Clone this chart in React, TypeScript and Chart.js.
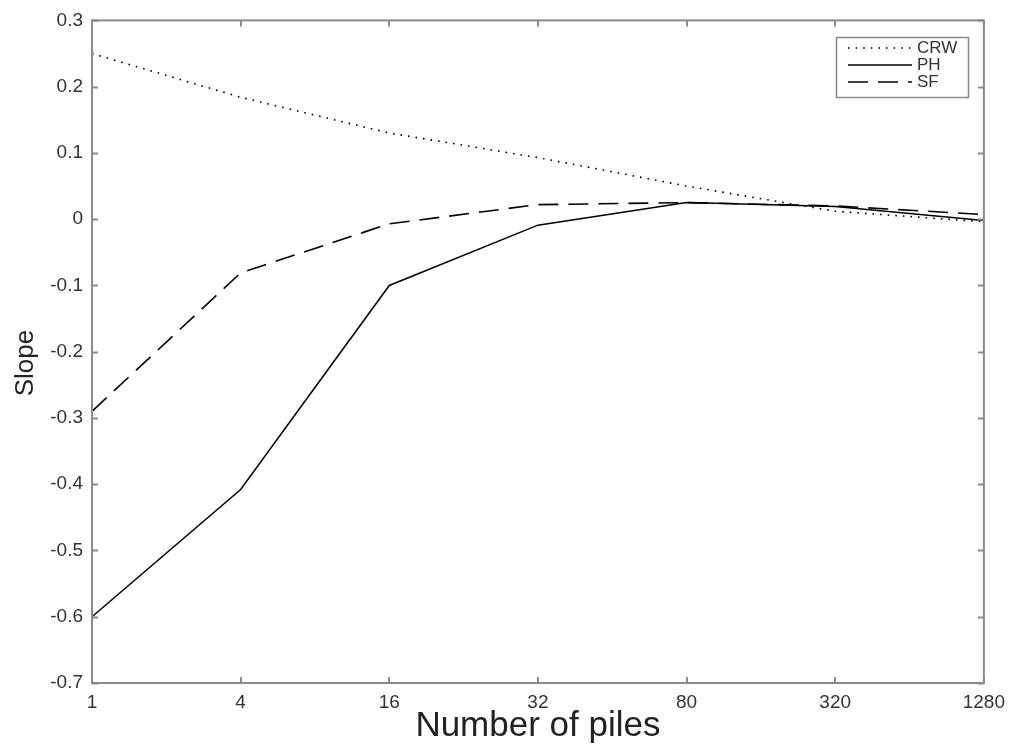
import React, { useEffect, useRef } from "react";
import { Chart, registerables } from "chart.js";

Chart.register(...registerables);

const categories = ["1", "4", "16", "32", "80", "320", "1280"];
const crwValues = [0.25, 0.184, 0.13, 0.093, 0.05, 0.012, -0.004];
const phValues = [-0.6, -0.408, -0.1, -0.009, 0.025, 0.019, -0.002];
const sfValues = [-0.29, -0.081, -0.007, 0.022, 0.025, 0.02, 0.007];
const yMin = -0.7;
const yMax = 0.3;
const yStep = 0.1;

const FONT = '"Liberation Sans", Arial, Helvetica, sans-serif';
const FRAME = "#8a8a8a";

const framePlugin = {
  id: "frameTicks",
  afterDatasetsDraw(chart: any) {
    const { ctx, chartArea } = chart;
    const { left, right, top, bottom } = chartArea;
    const xs = chart.scales.x;
    const ys = chart.scales.y;
    ctx.save();
    ctx.strokeStyle = FRAME;
    ctx.lineWidth = 2;
    ctx.beginPath();
    ys.ticks.forEach((_t: any, i: number) => {
      const y = Math.round(ys.getPixelForTick(i)) + 0.5;
      ctx.moveTo(left, y);
      ctx.lineTo(left + 6, y);
      ctx.moveTo(right, y);
      ctx.lineTo(right - 6, y);
    });
    xs.ticks.forEach((_t: any, i: number) => {
      const x = Math.round(xs.getPixelForTick(i));
      ctx.moveTo(x, bottom);
      ctx.lineTo(x, bottom - 6);
      ctx.moveTo(x, top);
      ctx.lineTo(x, top + 6);
    });
    ctx.stroke();
    ctx.strokeRect(left, top, right - left, bottom - top);

    // y-axis title
    ctx.save();
    ctx.translate(26, 363);
    ctx.rotate(-Math.PI / 2);
    ctx.fillStyle = "#222";
    ctx.font = `26px ${FONT}`;
    ctx.textAlign = "center";
    ctx.textBaseline = "middle";
    ctx.fillText("Slope", 0, 0);
    ctx.restore();

    // legend
    const bx = 836.5, by = 37.5, bw = 132, bh = 60;
    ctx.fillStyle = "#ffffff";
    ctx.fillRect(bx, by, bw, bh);
    ctx.lineWidth = 1.5;
    ctx.strokeStyle = FRAME;
    ctx.strokeRect(bx, by, bw, bh);
    const rows = [48, 65, 82];
    chart.data.datasets.forEach((ds: any, i: number) => {
      const y = rows[i];
      ctx.beginPath();
      ctx.strokeStyle = ds.borderColor;
      ctx.lineWidth = ds.borderWidth;
      ctx.setLineDash(ds.borderDash || []);
      ctx.moveTo(848, y);
      ctx.lineTo(912, y);
      ctx.stroke();
      ctx.setLineDash([]);
      ctx.fillStyle = "#333";
      ctx.font = `17px ${FONT}`;
      ctx.textBaseline = "middle";
      ctx.textAlign = "left";
      ctx.fillText(ds.label, 917, y);
    });
    ctx.restore();
  },
};

export default function App() {
  const ref = useRef<HTMLCanvasElement | null>(null);
  useEffect(() => {
    if (!ref.current) return;
    const chart = new Chart(ref.current, {
      type: "line",
      data: {
        labels: categories,
        datasets: [
          {
            label: "CRW",
            data: crwValues,
            borderColor: "#000",
            borderWidth: 1.6,
            borderDash: [1.6, 6],
            pointRadius: 0,
            fill: false,
            tension: 0,
          },
          {
            label: "PH",
            data: phValues,
            borderColor: "#000",
            borderWidth: 1.5,
            pointRadius: 0,
            fill: false,
            tension: 0,
          },
          {
            label: "SF",
            data: sfValues,
            borderColor: "#000",
            borderWidth: 1.6,
            borderDash: [20, 10],
            pointRadius: 0,
            fill: false,
            tension: 0,
          },
        ],
      },
      options: {
        animation: false,
        responsive: true,
        maintainAspectRatio: false,
        layout: { padding: { top: 18, right: 27, left: 0, bottom: 0 } },
        plugins: {
          legend: { display: false },
          tooltip: { enabled: false },
        },
        scales: {
          x: {
            type: "category",
            offset: false,
            grid: { display: false, drawTicks: false },
            border: { display: false },
            ticks: {
              autoSkip: false,
              maxRotation: 0,
              padding: 8,
              color: "#333",
              font: { family: FONT, size: 19 },
            },
            title: {
              display: true,
              text: "Number of piles",
              color: "#222",
              font: { family: FONT, size: 35 },
              padding: { top: 0, bottom: 1 },
            },
            afterFit(scale: any) {
              scale.height = 65;
            },
          },
          y: {
            min: yMin,
            max: yMax,
            grid: { display: false, drawTicks: false },
            border: { display: false },
            ticks: {
              stepSize: yStep,
              padding: 9,
              color: "#333",
              font: { family: FONT, size: 19 },
              callback: (v: any) => String(Math.round(Number(v) * 10) / 10),
            },
            title: { display: false },
            afterFit(scale: any) {
              scale.width = 92;
            },
          },
        },
      },
      plugins: [framePlugin],
    });
    return () => chart.destroy();
  }, []);
  return (
    <div style={{ position: "absolute", left: 0, top: 0, width: 1013, height: 748, background: "#fff" }}>
      <canvas ref={ref} />
    </div>
  );
}
